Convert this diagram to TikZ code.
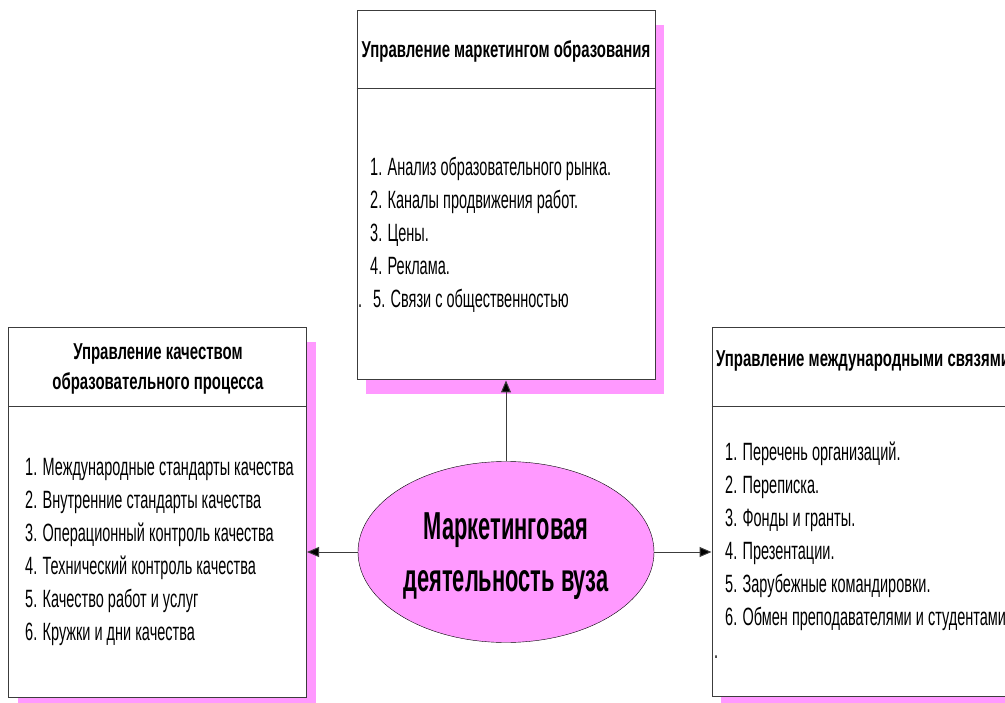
\documentclass[tikz,border=0pt]{standalone}
\usepackage{fontspec}
\setmainfont{Liberation Sans}
\newfontfamily\narrowfont{Liberation Sans}[FakeStretch=0.65]
\newfontfamily\listfont{Liberation Sans}[FakeStretch=0.58]
\newfontfamily\corefont{Liberation Sans}[FakeStretch=0.56]
\usetikzlibrary{arrows.meta,shapes.geometric,shadows}

\definecolor{vuzpink}{RGB}{255,153,255}
\definecolor{framegray}{RGB}{60,60,60}

\tikzset{
  blockbox/.style={draw=framegray, line width=1pt, fill=white,
    minimum width=298pt, minimum height=369pt, inner sep=0pt,
    drop shadow={fill=vuzpink, opacity=1, shadow xshift=9pt, shadow yshift=-14pt}},
  blockhead/.style={font=\narrowfont\bfseries\fontsize{23}{30}\selectfont, align=center, inner sep=0pt},
  blocklist/.style={font=\listfont\fontsize{25}{33}\selectfont, align=left, inner sep=0pt, anchor=north west},
  coreoval/.style={ellipse, draw=black, fill=vuzpink, minimum width=296pt, minimum height=181pt},
  coretitle/.style={font=\corefont\bfseries\fontsize{39}{52}\selectfont, align=center},
  linkarrow/.style={draw=framegray, line width=1pt, -{Triangle[length=12pt,width=10pt,fill=black]}}
}

\begin{document}
\begin{tikzpicture}[x=1pt,y=-1pt]
\useasboundingbox (0,0) rectangle (1005,703);
\clip (0,0) rectangle (1005,703);

% blocks
\node[blockbox] (marketing) at (506,195.5) {};
\node[blockbox] (quality) at (157.5,512.5) {};
\node[blockbox] (intl) at (861,512) {};

\draw[framegray, line width=1pt] (marketing.west |- 0,89) -- (marketing.east |- 0,89);
\draw[framegray, line width=1pt] (quality.west |- 0,407) -- (quality.east |- 0,407);
\draw[framegray, line width=1pt] (intl.west |- 0,407) -- (intl.east |- 0,407);

% headings
\node[blockhead] (marketinghead) at (506,51) {Управление маркетингом образования};
\node[blockhead] (qualityhead) at (158,369) {Управление качеством\\образовательного процесса};
\node[blockhead, anchor=west] (intlhead) at (716,361) {Управление международными связями};

% lists
\node[blocklist] (marketinglist) at (358,157) {%
  \hspace*{12pt}1. Анализ образовательного рынка.\\
  \hspace*{12pt}2. Каналы продвижения работ.\\
  \hspace*{12pt}3. Цены.\\
  \hspace*{12pt}4. Реклама.\\
  .\hspace*{11pt}5. Связи с общественностью};
\node[blocklist] (qualitylist) at (25,458) {%
  1. Международные стандарты качества\\
  2. Внутренние стандарты качества\\
  3. Операционный контроль качества\\
  4. Технический контроль качества\\
  5. Качество работ и услуг\\
  6. Кружки и дни качества};
\node[blocklist] (intllist) at (714,442) {%
  \hspace*{11pt}1. Перечень организаций.\\
  \hspace*{11pt}2. Переписка.\\
  \hspace*{11pt}3. Фонды и гранты.\\
  \hspace*{11pt}4. Презентации.\\
  \hspace*{11pt}5. Зарубежные командировки.\\
  \hspace*{11pt}6. Обмен преподавателями и студентами\\
  .};

% centre
\node[coreoval] (core) at (506,552) {};
\node[coretitle] (coretext) at (506,556) {Маркетинговая\\деятельность вуза};

\draw[linkarrow] (core.north) -- (marketing.south);
\draw[linkarrow] (core.west) -- (core.west -| quality.east);
\draw[linkarrow] (core.east) -- (core.east -| intl.west);
\end{tikzpicture}
\end{document}
